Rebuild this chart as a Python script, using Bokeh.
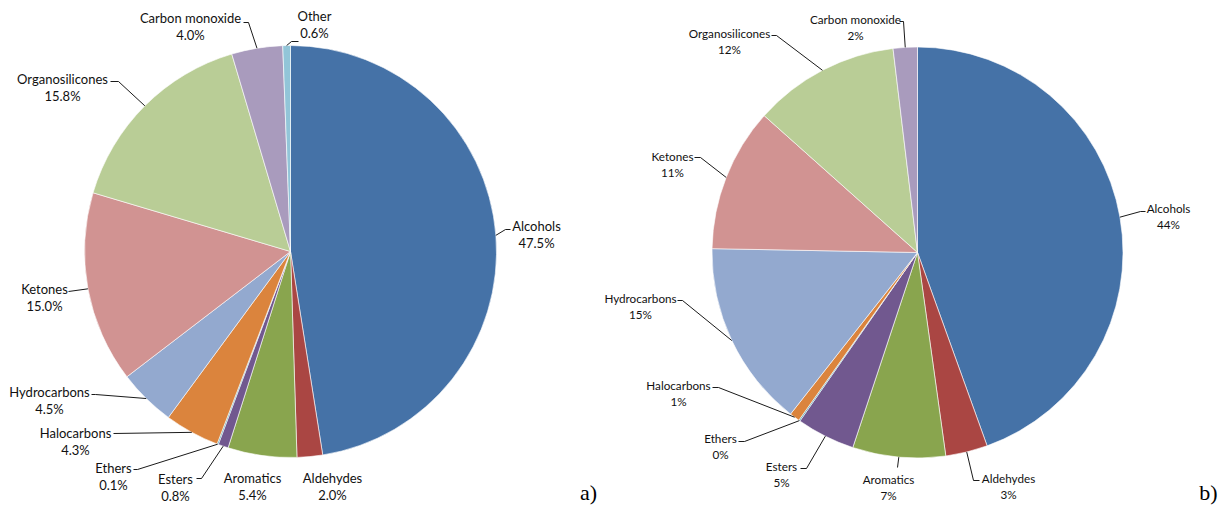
import math
from bokeh.plotting import figure
from bokeh.models import Range1d, ColumnDataSource
from bokeh.core.properties import value
from bokeh.embed import file_html
from bokeh.resources import INLINE

# ---------------- data ----------------
categories_a = ["Alcohols", "Aldehydes", "Aromatics", "Esters", "Ethers", "Halocarbons",
                "Hydrocarbons", "Ketones", "Organosilicones", "Carbon monoxide", "Other"]
shares_a = [47.5, 2.0, 5.4, 0.8, 0.1, 4.3, 4.5, 15.0, 15.8, 4.0, 0.6]
labels_a = ["47.5%", "2.0%", "5.4%", "0.8%", "0.1%", "4.3%", "4.5%", "15.0%", "15.8%", "4.0%", "0.6%"]

categories_b = ["Alcohols", "Aldehydes", "Aromatics", "Esters", "Ethers", "Halocarbons",
                "Hydrocarbons", "Ketones", "Organosilicones", "Carbon monoxide"]
shares_b = [44.5, 3.3, 7.3, 4.6, 0.1, 0.8, 14.7, 11.3, 11.5, 1.9]
labels_b = ["44%", "3%", "7%", "5%", "0%", "1%", "15%", "11%", "12%", "2%"]

panel_tags = ["a)", "b)"]

colors = {
    "Alcohols": "#4572A7", "Aldehydes": "#AA4643", "Aromatics": "#89A54E",
    "Esters": "#71588F", "Ethers": "#4198AF", "Halocarbons": "#DB843D",
    "Hydrocarbons": "#93A9CF", "Ketones": "#D19392", "Organosilicones": "#B9CD96",
    "Carbon monoxide": "#A99BBD", "Other": "#92C5D8",
}

# ---------------- layout (screen pixels of the page) ----------------
W, H = 1226, 505

pie_a = dict(cx=290, cy=251, r=206, font="13px", gap=17.5)
pie_b = dict(cx=917, cy=252, r=205.5, font="11.7px", gap=16.5)

# label centre (first line) and leader elbow points from pie edge towards the label
layout_a = {
    "Alcohols": ((536, 225), [(505, 229), (510, 229)]),
    "Aldehydes": ((332, 477), None),
    "Aromatics": ((252, 477), None),
    "Esters": ((175, 478), [(201, 478), (196, 478)]),
    "Ethers": ((113, 467), [(137, 469), (133, 469)]),
    "Halocarbons": ((75, 432), [(113, 433)]),
    "Hydrocarbons": ((49, 391), [(95, 394), (91, 394)]),
    "Ketones": ((44, 288), [(68, 291)]),
    "Organosilicones": ((62, 78), [(118, 81), (110, 81)]),
    "Carbon monoxide": ((190, 17), [(248, 22), (243, 22)]),
    "Other": ((314, 15), [(291, 41), (298, 41)]),
}
layout_b = {
    "Alcohols": ((1168, 207), [(1140, 211), (1145, 211)]),
    "Aldehydes": ((1008, 477), [(973, 480), (979, 480)]),
    "Aromatics": ((888, 478), [(897, 467)]),
    "Esters": ((781, 465), [(806, 468), (800, 468)]),
    "Ethers": ((720, 437), [(744, 441), (738, 441)]),
    "Halocarbons": ((678, 384), [(718, 387), (712, 387)]),
    "Hydrocarbons": ((640, 297), [(682, 300), (677, 300)]),
    "Ketones": ((672, 155), [(700, 157), (694, 157)]),
    "Organosilicones": ((729, 32), [(776, 35), (771, 35)]),
    "Carbon monoxide": ((855, 18), [(903, 21), (899, 21)]),
}
tag_pos = [(588, 492), (1208, 492)]


def Y(sy):
    return H - sy


p = figure(width=W, height=H, x_range=Range1d(0, W), y_range=Range1d(0, H),
           output_backend="svg", toolbar_location=None, min_border=0)
p.axis.visible = False
p.grid.visible = False
p.outline_line_color = None
p.background_fill_color = "white"
p.border_fill_color = "white"


def draw_pie(cats, shares, labels, geo, layout):
    total = sum(shares)
    starts, ends, mids = [], [], []
    c = 0.0
    for s in shares:
        f0 = c / total
        c += s
        f1 = c / total
        starts.append(math.pi / 2 - 2 * math.pi * f0)
        ends.append(math.pi / 2 - 2 * math.pi * f1)
        mids.append((f0 + f1) / 2)
    src = ColumnDataSource(dict(
        x=[geo["cx"]] * len(cats), y=[Y(geo["cy"])] * len(cats),
        start=starts, end=ends, color=[colors[k] for k in cats]))
    p.wedge(x="x", y="y", radius=geo["r"], radius_units="screen",
            start_angle="start", end_angle="end", direction="clock",
            fill_color="color", line_color="white", line_width=0.6, source=src)

    xs, ys = [], []
    tx, ty, tt = [], [], []
    for k, lab, fm in zip(cats, labels, mids):
        (lx, ly), path = layout[k]
        ang = 2 * math.pi * fm
        ex = geo["cx"] + geo["r"] * math.sin(ang)
        ey = geo["cy"] - geo["r"] * math.cos(ang)
        if path:
            pts = [(ex, ey)] + path
            xs.append([q[0] for q in pts])
            ys.append([Y(q[1]) for q in pts])
        tx += [lx, lx]
        ty += [Y(ly), Y(ly + geo["gap"])]
        tt += [k, lab]
    p.multi_line(xs=xs, ys=ys, line_color="black", line_width=0.9)
    p.text(x=tx, y=ty, text=tt, text_align="center", text_baseline="middle",
           text_font=value("Lato"), text_font_size=geo["font"], text_color="#111111")


draw_pie(categories_a, shares_a, labels_a, pie_a, layout_a)
draw_pie(categories_b, shares_b, labels_b, pie_b, layout_b)

p.text(x=[q[0] for q in tag_pos], y=[Y(q[1]) for q in tag_pos], text=panel_tags,
       text_align="center", text_baseline="middle",
       text_font=value("Liberation Serif"), text_font_size="22px", text_color="black")

open("out.html", "w").write(file_html(p, INLINE))
